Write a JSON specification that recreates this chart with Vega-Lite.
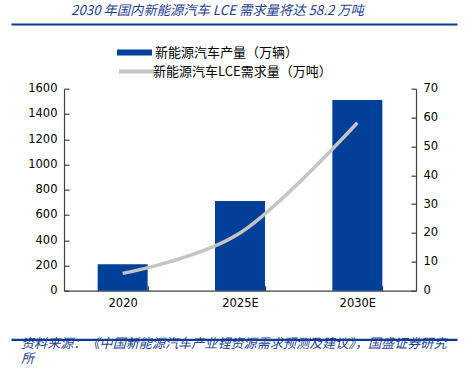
{
  "$schema": "https://vega.github.io/schema/vega-lite/v6.json",
  "padding": {"left": 10, "top": 4, "right": 10, "bottom": 0},
  "autosize": {"type": "pad"},
  "background": "white",
  "bounds": "flush",
  "spacing": 48.7,
  "config": {
    "view": {"stroke": null},
    "font": "Noto Sans CJK SC",
    "axis": {
      "grid": false,
      "title": null,
      "tickSize": -5,
      "tickColor": "#404040",
      "domainColor": "#404040",
      "domainWidth": 1.2,
      "tickWidth": 1.2,
      "labelFont": "DejaVu Sans",
      "labelFontSize": 11.5,
      "labelColor": "#000000",
      "labelPadding": 12
    },
    "legend": {
      "labelFont": "Noto Sans CJK SC",
      "labelFontSize": 13,
      "labelColor": "#000000",
      "labelLimit": 400,
      "padding": 0,
      "title": null
    }
  },
  "vconcat": [
    {
      "width": 393,
      "height": 15.3,
      "title": {
        "text": "2030 年国内新能源汽车 LCE 需求量将达 58.2 万吨",
        "anchor": "start",
        "frame": "group",
        "dx": 7,
        "fontSize": 13.3,
        "fontStyle": "italic",
        "fontWeight": "normal",
        "color": "#1f3f95",
        "font": "Noto Sans CJK SC",
        "baseline": "bottom",
        "offset": -7.3
      },
      "data": {"values": [{"v": 0}]},
      "mark": {"type": "point", "opacity": 0, "size": 1},
      "encoding": {
        "x": {
          "field": "v",
          "type": "quantitative",
          "scale": {"domain": [0, 1], "range": [-53, 393]},
          "axis": {"orient": "top", "ticks": false, "labels": false, "domainColor": "#0a3d91", "domainWidth": 2.2}
        }
      }
    },
    {
      "width": 352,
      "height": 202,
      "data": {
        "values": [
          {"year": "2020", "sales": 210, "lce": 6.0},
          {"year": "2025E", "sales": 710, "lce": 20.0},
          {"year": "2030E", "sales": 1510, "lce": 58.2}
        ]
      },
      "encoding": {
        "x": {
          "field": "year",
          "type": "nominal",
          "sort": null,
          "scale": {"paddingInner": 0.574, "paddingOuter": 0.287},
          "axis": {"labelAngle": 0, "tickBand": "extent"}
        }
      },
      "layer": [
        {
          "mark": {"type": "bar"},
          "encoding": {
            "y": {
              "field": "sales",
              "type": "quantitative",
              "scale": {"domain": [0, 1600]},
              "axis": {"values": [0, 200, 400, 600, 800, 1000, 1200, 1400, 1600], "format": "d"}
            },
            "fill": {
              "datum": "新能源汽车产量（万辆）",
              "scale": {"range": ["#023f98"]},
              "legend": {
                "orient": "none",
                "legendX": 53,
                "legendY": 11,
                "symbolType": "M-1,-0.17H1V0.17H-1Z",
                "symbolSize": 1225,
                "symbolStrokeWidth": 0,
                "symbolOpacity": 1,
                "labelOffset": 3
              }
            }
          }
        },
        {
          "mark": {"type": "line", "interpolate": "cardinal", "tension": 0, "strokeWidth": 3.5},
          "encoding": {
            "y": {
              "field": "lce",
              "type": "quantitative",
              "scale": {"domain": [0, 70]},
              "axis": {"orient": "right", "values": [0, 10, 20, 30, 40, 50, 60, 70], "format": "d"}
            },
            "stroke": {
              "datum": "新能源汽车LCE需求量（万吨）",
              "scale": {"range": ["#c4c4c4"]},
              "legend": {
                "orient": "none",
                "legendX": 53,
                "legendY": 28,
                "symbolType": "stroke",
                "symbolSize": 1225,
                "symbolStrokeWidth": 4,
                "labelOffset": -3
              }
            }
          }
        }
      ],
      "resolve": {"scale": {"y": "independent"}}
    },
    {
      "width": 393,
      "height": 1,
      "title": {
        "text": ["资料来源：《中国新能源汽车产业锂资源需求预测及建议》，国盛证券研究", "所"],
        "orient": "bottom",
        "anchor": "start",
        "frame": "group",
        "dx": -43,
        "fontSize": 13.1,
        "fontStyle": "italic",
        "fontWeight": "normal",
        "color": "#1f3f95",
        "font": "Noto Sans CJK SC",
        "baseline": "top",
        "offset": -2,
        "lineHeight": 15
      },
      "data": {"values": [{"v": 0}]},
      "mark": {"type": "point", "opacity": 0, "size": 1},
      "encoding": {
        "x": {
          "field": "v",
          "type": "quantitative",
          "scale": {"domain": [0, 1], "range": [-53, 393]},
          "axis": {"orient": "top", "ticks": false, "labels": false, "domainColor": "#0a3d91", "domainWidth": 2.2}
        }
      }
    }
  ]
}
